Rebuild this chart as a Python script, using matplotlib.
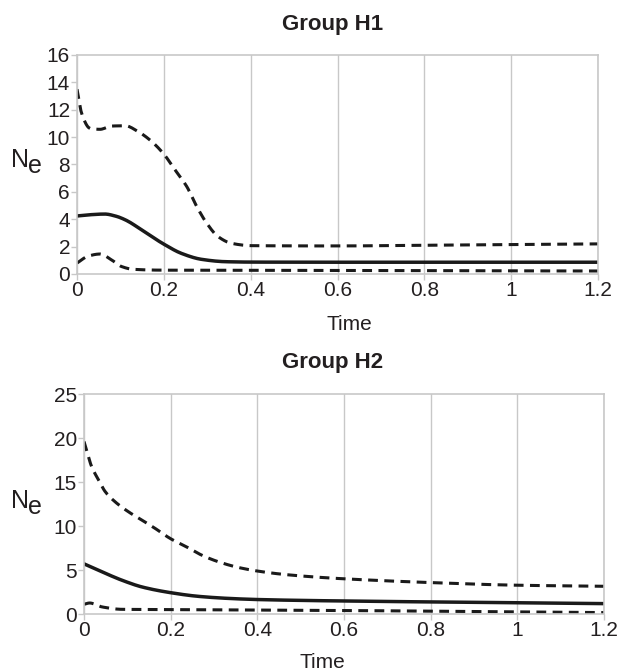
import matplotlib
matplotlib.use("Agg")
import matplotlib.pyplot as plt
import numpy as np

plt.rcParams['font.family'] = ['Liberation Sans', 'DejaVu Sans']

# ---- Data: Group H1 ----
h1_up_t = [0.0, 0.011, 0.030, 0.053, 0.080, 0.111, 0.141, 0.168, 0.199, 0.226, 0.253, 0.276,
           0.299, 0.325, 0.356, 0.402, 0.6, 0.8, 1.0, 1.2]
h1_upper = [13.5, 11.7, 10.64, 10.57, 10.81, 10.83, 10.4, 9.79, 8.8, 7.6, 6.38, 4.92,
            3.7, 2.73, 2.24, 2.07, 2.05, 2.1, 2.15, 2.2]
h1_mid_t = [0.0, 0.03, 0.064, 0.09, 0.111, 0.157, 0.199, 0.241, 0.287, 0.341, 0.4, 0.6, 0.8, 1.0, 1.2]
h1_mid = [4.24, 4.33, 4.38, 4.22, 3.96, 3.05, 2.2, 1.5, 1.07, 0.9, 0.87, 0.86, 0.86, 0.86, 0.86]
h1_low_t = [0.0, 0.026, 0.053, 0.080, 0.103, 0.13, 0.2, 0.4, 0.6, 0.8, 1.0, 1.2]
h1_lower = [0.8, 1.31, 1.46, 1.02, 0.54, 0.34, 0.28, 0.27, 0.26, 0.25, 0.23, 0.22]

# ---- Data: Group H2 ----
h2_up_t = [0.0, 0.018, 0.034, 0.049, 0.072, 0.103, 0.134, 0.165, 0.199, 0.234, 0.272, 0.311,
           0.357, 0.403, 0.457, 0.534, 0.6, 0.8, 1.0, 1.2]
h2_upper = [19.6, 16.7, 15.2, 13.9, 12.74, 11.6, 10.66, 9.7, 8.58, 7.7, 6.68, 5.92,
            5.28, 4.86, 4.52, 4.2, 4.0, 3.57, 3.27, 3.15]
h2_mid_t = [0.0, 0.042, 0.088, 0.134, 0.199, 0.265, 0.342, 0.403, 0.534, 0.6, 0.8, 1.0, 1.2]
h2_mid = [5.7, 4.78, 3.83, 3.07, 2.43, 2.0, 1.75, 1.64, 1.52, 1.48, 1.37, 1.28, 1.18]
h2_low_t = [0.0, 0.013, 0.042, 0.088, 0.2, 0.4, 0.6, 0.8, 1.0, 1.2]
h2_lower = [1.1, 1.25, 0.8, 0.53, 0.5, 0.45, 0.4, 0.32, 0.24, 0.16]

xticks = [0, 0.2, 0.4, 0.6, 0.8, 1.0, 1.2]
xticklabels = ['0', '0.2', '0.4', '0.6', '0.8', '1', '1.2']
h1_yticks = [0, 2, 4, 6, 8, 10, 12, 14, 16]
h2_yticks = [0, 5, 10, 15, 20, 25]


def smooth(t, v, n=400):
    t = np.asarray(t, float); v = np.asarray(v, float)
    h = np.diff(t); d = np.diff(v) / h
    m = np.zeros_like(v)
    m[0] = d[0]; m[-1] = d[-1]
    for i in range(1, len(v) - 1):
        if d[i-1] * d[i] <= 0:
            m[i] = 0
        else:
            w1 = 2*h[i] + h[i-1]; w2 = h[i] + 2*h[i-1]
            m[i] = (w1 + w2) / (w1/d[i-1] + w2/d[i])
    tt = np.linspace(t[0], t[-1], n)
    idx = np.clip(np.searchsorted(t, tt) - 1, 0, len(t) - 2)
    s = (tt - t[idx]) / h[idx]
    h00 = 2*s**3 - 3*s**2 + 1; h10 = s**3 - 2*s**2 + s
    h01 = -2*s**3 + 3*s**2; h11 = s**3 - s**2
    vv = h00*v[idx] + h10*h[idx]*m[idx] + h01*v[idx+1] + h11*h[idx]*m[idx+1]
    return tt, vv


fig = plt.figure(figsize=(6.29, 6.71), dpi=100)
W, H = 629, 671
grey = '#c8c8c8'
txt = '#231f20'
ink = '#1a1a1a'


def make_ax(left, right, top, bottom):
    return fig.add_axes([left/W, 1 - bottom/H, (right-left)/W, (bottom-top)/H])


ax1 = make_ax(77, 598, 55, 274)
ax2 = make_ax(84, 604, 394, 614)

dash = (0, (3.2, 2.1))
panels = [
    (ax1, (h1_up_t, h1_upper), (h1_mid_t, h1_mid), (h1_low_t, h1_lower), h1_yticks, 16),
    (ax2, (h2_up_t, h2_upper), (h2_mid_t, h2_mid), (h2_low_t, h2_lower), h2_yticks, 25),
]
for ax, up, mid, lo, yt, ymax in panels:
    ax.plot(*smooth(*up), color=ink, lw=2.2, linestyle=dash)
    ax.plot(*smooth(*mid), color=ink, lw=2.5)
    ax.plot(*smooth(*lo), color=ink, lw=2.2, linestyle=dash)
    ax.set_xlim(0, 1.2)
    ax.set_ylim(0, ymax)
    ax.set_xticks(xticks)
    ax.set_xticklabels(xticklabels)
    ax.set_yticks(yt)
    ax.grid(axis='x', color=grey, lw=1.0)
    ax.set_axisbelow(True)
    for s in ax.spines.values():
        s.set_color(grey); s.set_linewidth(1.2)
    ax.tick_params(axis='both', colors=grey, labelcolor=txt, labelsize=15,
                   length=4, width=1.0, pad=1)

# Titles and labels
fig.text(333/W, 1 - 30/H, 'Group H1', ha='center', va='baseline',
         fontsize=16, fontweight='bold', color=txt)
fig.text(333/W, 1 - 368/H, 'Group H2', ha='center', va='baseline',
         fontsize=16, fontweight='bold', color=txt)
fig.text(349/W, 1 - 330/H, 'Time', ha='center', va='baseline', fontsize=15, color=txt)
fig.text(322/W, 1 - 668/H, 'Time', ha='center', va='baseline', fontsize=15, color=txt)
for base in (167, 508):
    fig.text(11/W, 1 - base/H, 'N', ha='left', va='baseline', fontsize=18, color=txt)
    fig.text(28/W, 1 - (base + 6)/H, 'e', ha='left', va='baseline', fontsize=18, color=txt)

fig.savefig('out.png', dpi=100, facecolor='white')
